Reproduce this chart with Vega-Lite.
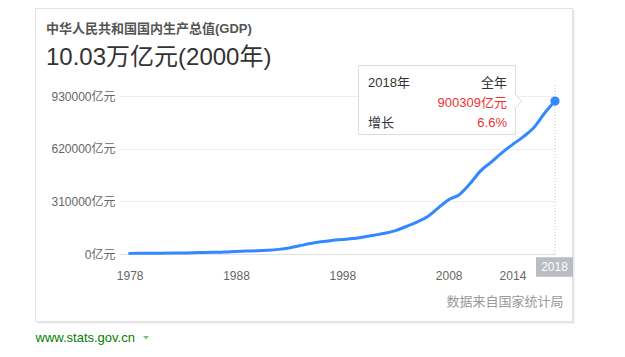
{
  "$schema": "https://vega.github.io/schema/vega-lite/v6.json",
  "width": 436,
  "height": 158,
  "autosize": {"type": "none"},
  "padding": {"left": 119, "top": 96, "right": 70, "bottom": 103},
  "background": "white",
  "config": {
    "font": "Liberation Sans, Noto Sans CJK SC, sans-serif",
    "view": {"stroke": null}
  },
  "title": {
    "text": "中华人民共和国国内生产总值(GDP)",
    "subtitle": "10.03万亿元(2000年)",
    "anchor": "start",
    "frame": "group",
    "offset": 0,
    "dx": -73,
    "dy": 62,
    "fontSize": 13,
    "fontWeight": "bold",
    "color": "#555555",
    "subtitleFontSize": 24,
    "subtitleColor": "#333333",
    "subtitlePadding": 10
  },
  "layer": [
    {
      "data": {"values": [{}]},
      "mark": {"type": "rect", "fill": "#e8e8e8", "xOffset": 17.5, "x2Offset": 19.5, "yOffset": -86, "y2Offset": 69.5},
      "encoding": {
        "x": {"datum": 2018, "type": "quantitative"},
        "x2": {"datum": 2018},
        "y": {"datum": 930000, "type": "quantitative"},
        "y2": {"datum": 0}
      }
    },
    {
      "data": {"values": [{}]},
      "mark": {"type": "rect", "fill": "#e8e8e8", "xOffset": -82, "x2Offset": 19.5, "yOffset": 67.5, "y2Offset": 69.5},
      "encoding": {
        "x": {"datum": 1977, "type": "quantitative"},
        "x2": {"datum": 2018},
        "y": {"datum": 0, "type": "quantitative"},
        "y2": {"datum": 0}
      }
    },
    {
      "data": {"values": [{}]},
      "mark": {"type": "rect", "fillOpacity": 0, "stroke": "#e2e2e2", "strokeWidth": 1, "xOffset": -83.5, "x2Offset": 17.5, "yOffset": -87.5, "y2Offset": 67.5},
      "encoding": {
        "x": {"datum": 1977, "type": "quantitative"},
        "x2": {"datum": 2018},
        "y": {"datum": 930000, "type": "quantitative"},
        "y2": {"datum": 0}
      }
    },
    {
      "data": {
        "values": [
          {"year": 1978, "gdp": 3679}, {"year": 1979, "gdp": 4101}, {"year": 1980, "gdp": 4588},
          {"year": 1981, "gdp": 4936}, {"year": 1982, "gdp": 5373}, {"year": 1983, "gdp": 6021},
          {"year": 1984, "gdp": 7279}, {"year": 1985, "gdp": 9099}, {"year": 1986, "gdp": 10376},
          {"year": 1987, "gdp": 12175}, {"year": 1988, "gdp": 15180}, {"year": 1989, "gdp": 17180},
          {"year": 1990, "gdp": 18873}, {"year": 1991, "gdp": 22006}, {"year": 1992, "gdp": 27195},
          {"year": 1993, "gdp": 35673}, {"year": 1994, "gdp": 48638}, {"year": 1995, "gdp": 61340},
          {"year": 1996, "gdp": 71814}, {"year": 1997, "gdp": 79715}, {"year": 1998, "gdp": 85196},
          {"year": 1999, "gdp": 90564}, {"year": 2000, "gdp": 100280}, {"year": 2001, "gdp": 110863},
          {"year": 2002, "gdp": 121717}, {"year": 2003, "gdp": 137422}, {"year": 2004, "gdp": 161840},
          {"year": 2005, "gdp": 187319}, {"year": 2006, "gdp": 219439}, {"year": 2007, "gdp": 270232},
          {"year": 2008, "gdp": 319516}, {"year": 2009, "gdp": 349081}, {"year": 2010, "gdp": 413030},
          {"year": 2011, "gdp": 489301}, {"year": 2012, "gdp": 540367}, {"year": 2013, "gdp": 595244},
          {"year": 2014, "gdp": 643974}, {"year": 2015, "gdp": 689052}, {"year": 2016, "gdp": 743586},
          {"year": 2017, "gdp": 827122}, {"year": 2018, "gdp": 900309}
        ]
      },
      "mark": {"type": "line", "interpolate": "monotone", "color": "#3388ff", "strokeWidth": 3, "strokeCap": "round"},
      "encoding": {
        "x": {
          "field": "year", "type": "quantitative",
          "scale": {"domain": [1977, 2018], "nice": false, "zero": false},
          "axis": {
            "values": [1978, 1988, 1998, 2008, 2014], "format": "d",
            "grid": false, "ticks": false, "domain": true, "domainColor": "#e0e0e0",
            "labelPadding": 16, "labelColor": "#666666", "labelFontSize": 12,
            "labelFlush": false, "labelOverlap": false,
            "title": "数据来自国家统计局", "titleX": 444, "titleY": 47,
            "titleAlign": "right", "titleBaseline": "middle", "titleAnchor": null,
            "titleColor": "#999999", "titleFontSize": 13, "titleFontWeight": "normal"
          }
        },
        "y": {
          "field": "gdp", "type": "quantitative",
          "scale": {"domain": [0, 930000], "nice": false, "zero": true},
          "axis": {
            "values": [0, 310000, 620000, 930000],
            "labelExpr": "format(datum.value, 'd') + '亿元'",
            "grid": true, "gridColor": "#eeeeee", "domain": false, "ticks": false,
            "labelPadding": 4, "labelColor": "#666666", "labelFontSize": 12, "labelOverlap": false,
            "title": "www.stats.gov.cn", "titleAngle": 0, "titleX": -84, "titleY": 241,
            "titleAlign": "left", "titleBaseline": "middle",
            "titleColor": "#008000", "titleFontSize": 13, "titleFontWeight": "normal"
          }
        }
      }
    },
    {
      "data": {"values": [{}]},
      "mark": {"type": "rule", "color": "#c4c4c4", "strokeDash": [1, 2], "strokeWidth": 1, "y2Offset": -11},
      "encoding": {
        "x": {"datum": 2018, "type": "quantitative"},
        "y": {"datum": 0, "type": "quantitative"},
        "y2": {"datum": 930000}
      }
    },
    {
      "data": {"values": [{"year": 2018, "gdp": 900309, "growth": 6.6}]},
      "transform": [
        {"calculate": "datum.year + '年'", "as": "yearLabel"},
        {"calculate": "datum.gdp + '亿元'", "as": "gdpLabel"},
        {"calculate": "format(datum.growth, '.1f') + '%'", "as": "growthLabel"}
      ],
      "encoding": {
        "x": {"field": "year", "type": "quantitative"},
        "y": {"field": "gdp", "type": "quantitative"}
      },
      "layer": [
        {
          "mark": {"type": "point", "filled": true, "color": "#3388ff", "size": 85, "opacity": 1}
        },
        {
          "mark": {"type": "rect", "fill": "white", "stroke": "#dcdcdc", "strokeWidth": 1, "xOffset": -196.5, "x2Offset": -39.5, "yOffset": -35.5, "y2Offset": 33.5},
          "encoding": {"x2": {"field": "year"}, "y2": {"field": "gdp"}}
        },
        {
          "mark": {"type": "point", "shape": "M-0.12,-1L0.75,0L-0.12,1", "size": 256, "filled": true, "fill": "white", "stroke": "#dcdcdc", "strokeWidth": 1, "opacity": 1, "xOffset": -39.5}
        },
        {
          "mark": {"type": "text", "align": "left", "baseline": "middle", "fontSize": 13, "color": "#333333", "dx": -187, "dy": -18},
          "encoding": {"text": {"field": "yearLabel"}}
        },
        {
          "mark": {"type": "text", "align": "right", "baseline": "middle", "fontSize": 13, "color": "#333333", "dx": -48, "dy": -18},
          "encoding": {"text": {"value": "全年"}}
        },
        {
          "mark": {"type": "text", "align": "right", "baseline": "middle", "fontSize": 13, "color": "#f23030", "dx": -48, "dy": 2},
          "encoding": {"text": {"field": "gdpLabel"}}
        },
        {
          "mark": {"type": "text", "align": "left", "baseline": "middle", "fontSize": 13, "color": "#333333", "dx": -187, "dy": 22},
          "encoding": {"text": {"value": "增长"}}
        },
        {
          "mark": {"type": "text", "align": "right", "baseline": "middle", "fontSize": 13, "color": "#f23030", "dx": -48, "dy": 22},
          "encoding": {"text": {"field": "growthLabel"}}
        },
        {
          "mark": {"type": "rect", "fill": "#babdc4", "xOffset": -19, "x2Offset": 18, "yOffset": 3.3, "y2Offset": 22.7},
          "encoding": {"x2": {"field": "year"}, "y": {"datum": 0, "type": "quantitative"}, "y2": {"datum": 0}}
        },
        {
          "mark": {"type": "text", "align": "center", "baseline": "middle", "fontSize": 12, "color": "white", "dy": 12.7, "dx": -0.5},
          "encoding": {"y": {"datum": 0, "type": "quantitative"}, "text": {"field": "year", "type": "quantitative", "format": "d"}}
        }
      ]
    },
    {
      "data": {"values": [{}]},
      "mark": {"type": "point", "shape": "M-1,-0.6L1,-0.6L0,0.6Z", "size": 36, "filled": true, "color": "#7cbf7c", "opacity": 1, "xOffset": 27, "yOffset": 83.7},
      "encoding": {
        "x": {"datum": 1977, "type": "quantitative"},
        "y": {"datum": 0, "type": "quantitative"}
      }
    }
  ]
}
